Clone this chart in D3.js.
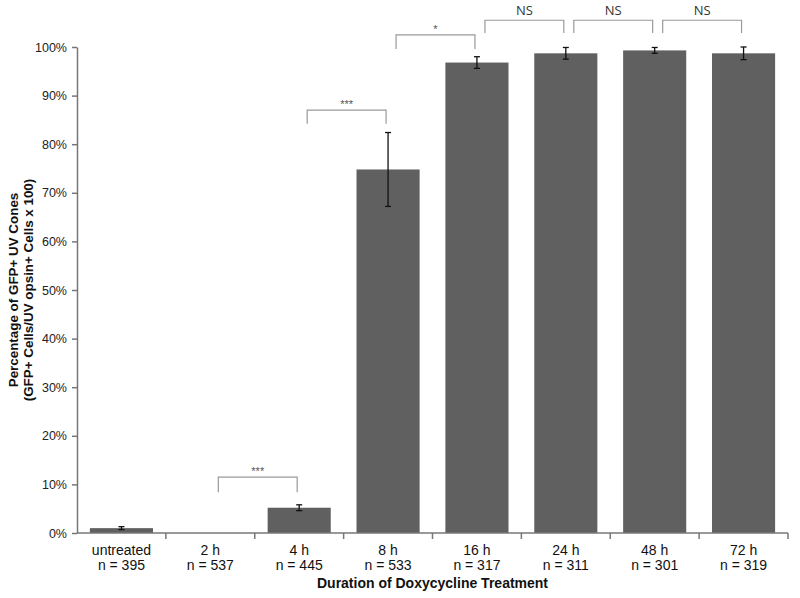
<!DOCTYPE html>
<html><head><meta charset="utf-8">
<script src="https://cdn.jsdelivr.net/npm/d3@7"></script>
<style>body{margin:0;background:#fff}svg{display:block}</style>
</head><body>
<script>
const categories = ["untreated","2 h","4 h","8 h","16 h","24 h","48 h","72 h"];
const counts = ["n = 395","n = 537","n = 445","n = 533","n = 317","n = 311","n = 301","n = 319"];
const values = [1.0, 0, 5.2, 74.8, 96.8, 98.7, 99.3, 98.7];
const errors = [0.3, 0, 0.6, 7.6, 1.2, 1.2, 0.6, 1.3];
const yTicks = [0,10,20,30,40,50,60,70,80,90,100];
// significance brackets: from category, to category, bar level (%), leg end (%), label
const brackets = [
  {from:"2 h", to:"4 h", level:11.5, leg:8.4, label:"***"},
  {from:"4 h", to:"8 h", level:87.0, leg:84.2, label:"***"},
  {from:"8 h", to:"16 h", level:102.5, leg:99.6, label:"*"},
  {from:"16 h", to:"24 h", level:105.5, leg:102.9, label:"NS"},
  {from:"24 h", to:"48 h", level:105.5, leg:102.9, label:"NS"},
  {from:"48 h", to:"72 h", level:105.5, leg:102.9, label:"NS"}
];

const W=800,H=598;
const m={left:77,right:12,top:47,bottom:65};
const svg=d3.select("body").append("svg").attr("width",W).attr("height",H);
const x=d3.scaleBand().domain(categories).range([m.left,788]).paddingInner(0.29).paddingOuter(0.145);
const xb=d3.scaleBand().domain(categories).range([m.left,788]);
const y=d3.scaleLinear().domain([0,100]).range([533,47]);
const font="'Liberation Sans', Arial, sans-serif";

// bars
svg.append("g").selectAll("rect").data(categories).join("rect")
  .attr("x",d=>x(d)).attr("width",x.bandwidth())
  .attr("y",(d,i)=>y(values[i])).attr("height",(d,i)=>y(0)-y(values[i]))
  .attr("fill","#606060");

// error bars
const eg=svg.append("g").attr("stroke","#111").attr("stroke-width",1.3);
categories.forEach((c,i)=>{
  if(!errors[i]) return;
  const cx=x(c)+x.bandwidth()/2;
  const y1=y(values[i]+errors[i]), y2=y(values[i]-errors[i]);
  eg.append("line").attr("x1",cx).attr("x2",cx).attr("y1",y1).attr("y2",y2);
  eg.append("line").attr("x1",cx-3).attr("x2",cx+3).attr("y1",y1).attr("y2",y1);
  eg.append("line").attr("x1",cx-3).attr("x2",cx+3).attr("y1",y2).attr("y2",y2);
});

// y axis
const ya=svg.append("g").attr("transform",`translate(${m.left},0)`)
  .call(d3.axisLeft(y).tickValues(yTicks).tickFormat(d=>d+"%").tickSize(5).tickSizeOuter(0));
ya.selectAll("text").attr("font-family",font).attr("font-size",12.5).attr("fill","#222").attr("dx",-2);
ya.selectAll("line,path").attr("stroke","#777").attr("stroke-width",1.5);

// x axis
const xa=svg.append("g").attr("transform",`translate(0,${y(0)})`);
xa.append("line").attr("x1",m.left).attr("x2",788).attr("stroke","#777").attr("stroke-width",1.5);
xa.selectAll("line.t").data(categories).join("line").attr("class","t")
  .attr("x1",d=>xb(d)+xb.bandwidth()).attr("x2",d=>xb(d)+xb.bandwidth())
  .attr("y1",0).attr("y2",6).attr("stroke","#777").attr("stroke-width",1.5);
categories.forEach((c,i)=>{
  const cx=xb(c)+xb.bandwidth()/2;
  const t=xa.append("text").attr("x",cx).attr("text-anchor","middle").attr("font-family",font).attr("font-size",14).attr("fill","#111");
  t.append("tspan").attr("x",cx).attr("y",22).text(c);
  t.append("tspan").attr("x",cx).attr("y",37).text(counts[i]);
});
svg.append("text").attr("x",(m.left+788)/2).attr("y",588).attr("text-anchor","middle")
  .attr("font-family",font).attr("font-size",14).attr("font-weight","bold").attr("fill","#111")
  .text("Duration of Doxycycline Treatment");

// y title
const yt=svg.append("text").attr("transform",`translate(18,${y(50)}) rotate(-90)`)
  .attr("text-anchor","middle").attr("font-family",font).attr("font-size",13.4).attr("font-weight","bold").attr("fill","#111");
yt.append("tspan").attr("x",0).attr("y",0).text("Percentage of GFP+ UV Cones");
yt.append("tspan").attr("x",0).attr("y",15).text("(GFP+ Cells/UV opsin+ Cells x 100)");

// brackets
const bg=svg.append("g");
brackets.forEach(b=>{
  const x1=xb(b.from)+xb.bandwidth()/2+8, x2=xb(b.to)+xb.bandwidth()/2-2;
  bg.append("path").attr("d",`M${x1},${y(b.leg)}V${y(b.level)}H${x2}V${y(b.leg)}`)
    .attr("fill","none").attr("stroke","#999").attr("stroke-width",1.2);
  const ns=b.label==="NS";
  bg.append("text").attr("x",(x1+x2)/2).attr("y",y(b.level)-(ns?5:2)).attr("text-anchor","middle")
    .attr("font-family",ns?"'Open Sans', sans-serif":font).attr("font-size",ns?13:11)
    .attr("fill",ns?"#333":"#555").text(b.label);
});
</script>
</body></html>
